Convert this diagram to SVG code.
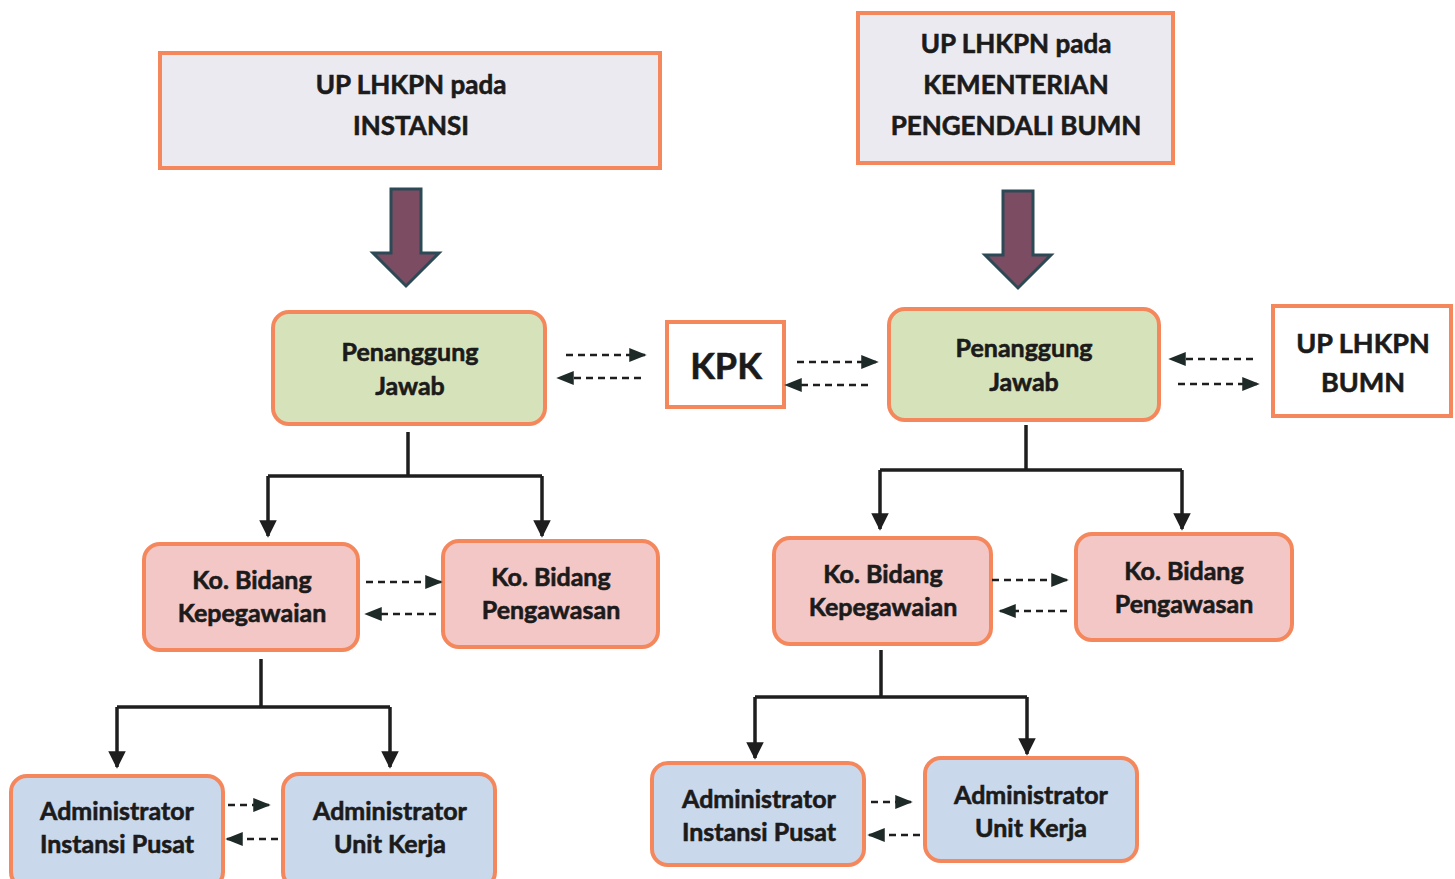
<svg xmlns="http://www.w3.org/2000/svg" width="1455" height="879" viewBox="0 0 1455 879">
<style>
.t{font-family:Lato,"Open Sans","Liberation Sans",sans-serif;font-weight:700;fill:#1b1b1b;stroke:#1b1b1b;stroke-width:0.6;text-anchor:middle}
.box{stroke:#f4875c;stroke-width:4}
.grey{fill:#ebeaf0}
.green{fill:#d6e3ba}
.pink{fill:#f3c7c6}
.blue{fill:#cad8ec}
.white{fill:#ffffff}
.tree{fill:none;stroke:#1e1e1e;stroke-width:3.5}
.dash{fill:none;stroke:#1e1e1e;stroke-width:2.5;stroke-dasharray:7 5}
.big{fill:#7b4c62;stroke:#2c4a55;stroke-width:3}
</style>
<defs>
<marker id="ah" viewBox="0 0 10 10" refX="9" refY="5" markerWidth="5" markerHeight="5" orient="auto" markerUnits="strokeWidth"><path d="M0,0L10,5L0,10z" fill="#1e1e1e"/></marker>
<marker id="dh" viewBox="0 0 10 10" refX="9" refY="5" markerWidth="7" markerHeight="7" orient="auto" markerUnits="strokeWidth"><path d="M0,1L10,5L0,9z" fill="#1e2a28"/></marker>
</defs>
<rect width="1455" height="879" fill="#ffffff"/>

<g id="up-instansi">
<rect class="box grey" x="160" y="53" width="500" height="115"/>
<text class="t" x="411" y="94" font-size="26">UP LHKPN pada</text>
<text class="t" x="411" y="135" font-size="26">INSTANSI</text>
</g>
<g id="up-kementerian">
<rect class="box grey" x="858" y="13" width="315" height="150"/>
<text class="t" x="1016" y="53" font-size="26">UP LHKPN pada</text>
<text class="t" x="1016" y="94" font-size="26">KEMENTERIAN</text>
<text class="t" x="1016" y="135" font-size="26">PENGENDALI BUMN</text>
</g>

<g id="pj-left">
<rect class="box green" x="273" y="312" width="272" height="112" rx="16"/>
<text class="t" x="410" y="361" font-size="25">Penanggung</text>
<text class="t" x="410" y="395" font-size="25">Jawab</text>
</g>
<g id="kpk">
<rect class="box white" x="667" y="322" width="117" height="85"/>
<text class="t" x="726" y="379" font-size="36">KPK</text>
</g>
<g id="pj-right">
<rect class="box green" x="889" y="309" width="270" height="111" rx="16"/>
<text class="t" x="1024" y="357" font-size="25">Penanggung</text>
<text class="t" x="1024" y="391" font-size="25">Jawab</text>
</g>
<g id="up-bumn">
<rect class="box white" x="1273" y="306" width="178" height="110"/>
<text class="t" x="1363" y="353" font-size="27">UP LHKPN</text>
<text class="t" x="1363" y="392" font-size="27">BUMN</text>
</g>

<g id="kepeg-left">
<rect class="box pink" x="144" y="544" width="214" height="106" rx="16"/>
<text class="t" x="252" y="589" font-size="25">Ko. Bidang</text>
<text class="t" x="252" y="622" font-size="25">Kepegawaian</text>
</g>
<g id="pengaw-left">
<rect class="box pink" x="443" y="541" width="215" height="106" rx="16"/>
<text class="t" x="551" y="586" font-size="25">Ko. Bidang</text>
<text class="t" x="551" y="619" font-size="25">Pengawasan</text>
</g>
<g id="kepeg-right">
<rect class="box pink" x="774" y="538" width="217" height="106" rx="16"/>
<text class="t" x="883" y="583" font-size="25">Ko. Bidang</text>
<text class="t" x="883" y="616" font-size="25">Kepegawaian</text>
</g>
<g id="pengaw-right">
<rect class="box pink" x="1076" y="534" width="216" height="106" rx="16"/>
<text class="t" x="1184" y="580" font-size="25">Ko. Bidang</text>
<text class="t" x="1184" y="613" font-size="25">Pengawasan</text>
</g>

<g id="admin-pusat-left">
<rect class="box blue" x="11" y="776" width="212" height="112" rx="16"/>
<text class="t" x="117" y="820" font-size="25">Administrator</text>
<text class="t" x="117" y="853" font-size="25">Instansi Pusat</text>
</g>
<g id="admin-unit-left">
<rect class="box blue" x="283" y="774" width="212" height="114" rx="16"/>
<text class="t" x="390" y="820" font-size="25">Administrator</text>
<text class="t" x="390" y="853" font-size="25">Unit Kerja</text>
</g>
<g id="admin-pusat-right">
<rect class="box blue" x="652" y="763" width="212" height="102" rx="16"/>
<text class="t" x="759" y="808" font-size="25">Administrator</text>
<text class="t" x="759" y="841" font-size="25">Instansi Pusat</text>
</g>
<g id="admin-unit-right">
<rect class="box blue" x="925" y="758" width="212" height="103" rx="16"/>
<text class="t" x="1031" y="804" font-size="25">Administrator</text>
<text class="t" x="1031" y="837" font-size="25">Unit Kerja</text>
</g>

<g id="connectors">
<path class="big" d="M391,189H421V253H439L406,286L373,253H391Z"/>
<path class="big" d="M1003,191H1033V255H1051L1018,288L985,255H1003Z"/>

<path class="tree" d="M408,432V476"/>
<path class="tree" d="M268,476H542"/>
<path class="tree" d="M268,476V536" marker-end="url(#ah)"/>
<path class="tree" d="M542,476V536" marker-end="url(#ah)"/>

<path class="tree" d="M261,659V707"/>
<path class="tree" d="M117,707H390"/>
<path class="tree" d="M117,707V767" marker-end="url(#ah)"/>
<path class="tree" d="M390,707V767" marker-end="url(#ah)"/>

<path class="tree" d="M1026,425V470"/>
<path class="tree" d="M880,470H1182"/>
<path class="tree" d="M880,470V529" marker-end="url(#ah)"/>
<path class="tree" d="M1182,470V529" marker-end="url(#ah)"/>

<path class="tree" d="M881,650V697"/>
<path class="tree" d="M755,697H1027"/>
<path class="tree" d="M755,697V758" marker-end="url(#ah)"/>
<path class="tree" d="M1027,697V754" marker-end="url(#ah)"/>

<path class="dash" d="M566,355H645" marker-end="url(#dh)"/>
<path class="dash" d="M641,378H558" marker-end="url(#dh)"/>
<path class="dash" d="M797,362H877" marker-end="url(#dh)"/>
<path class="dash" d="M868,385H786" marker-end="url(#dh)"/>
<path class="dash" d="M1253,359H1170" marker-end="url(#dh)"/>
<path class="dash" d="M1178,384H1258" marker-end="url(#dh)"/>

<path class="dash" d="M366,582H441" marker-end="url(#dh)"/>
<path class="dash" d="M436,614H366" marker-end="url(#dh)"/>
<path class="dash" d="M992,580H1067" marker-end="url(#dh)"/>
<path class="dash" d="M1067,611H1000" marker-end="url(#dh)"/>

<path class="dash" d="M228,805H269" marker-end="url(#dh)"/>
<path class="dash" d="M278,839H227" marker-end="url(#dh)"/>
<path class="dash" d="M871,802H911" marker-end="url(#dh)"/>
<path class="dash" d="M920,835H869" marker-end="url(#dh)"/>
</g>
</svg>
